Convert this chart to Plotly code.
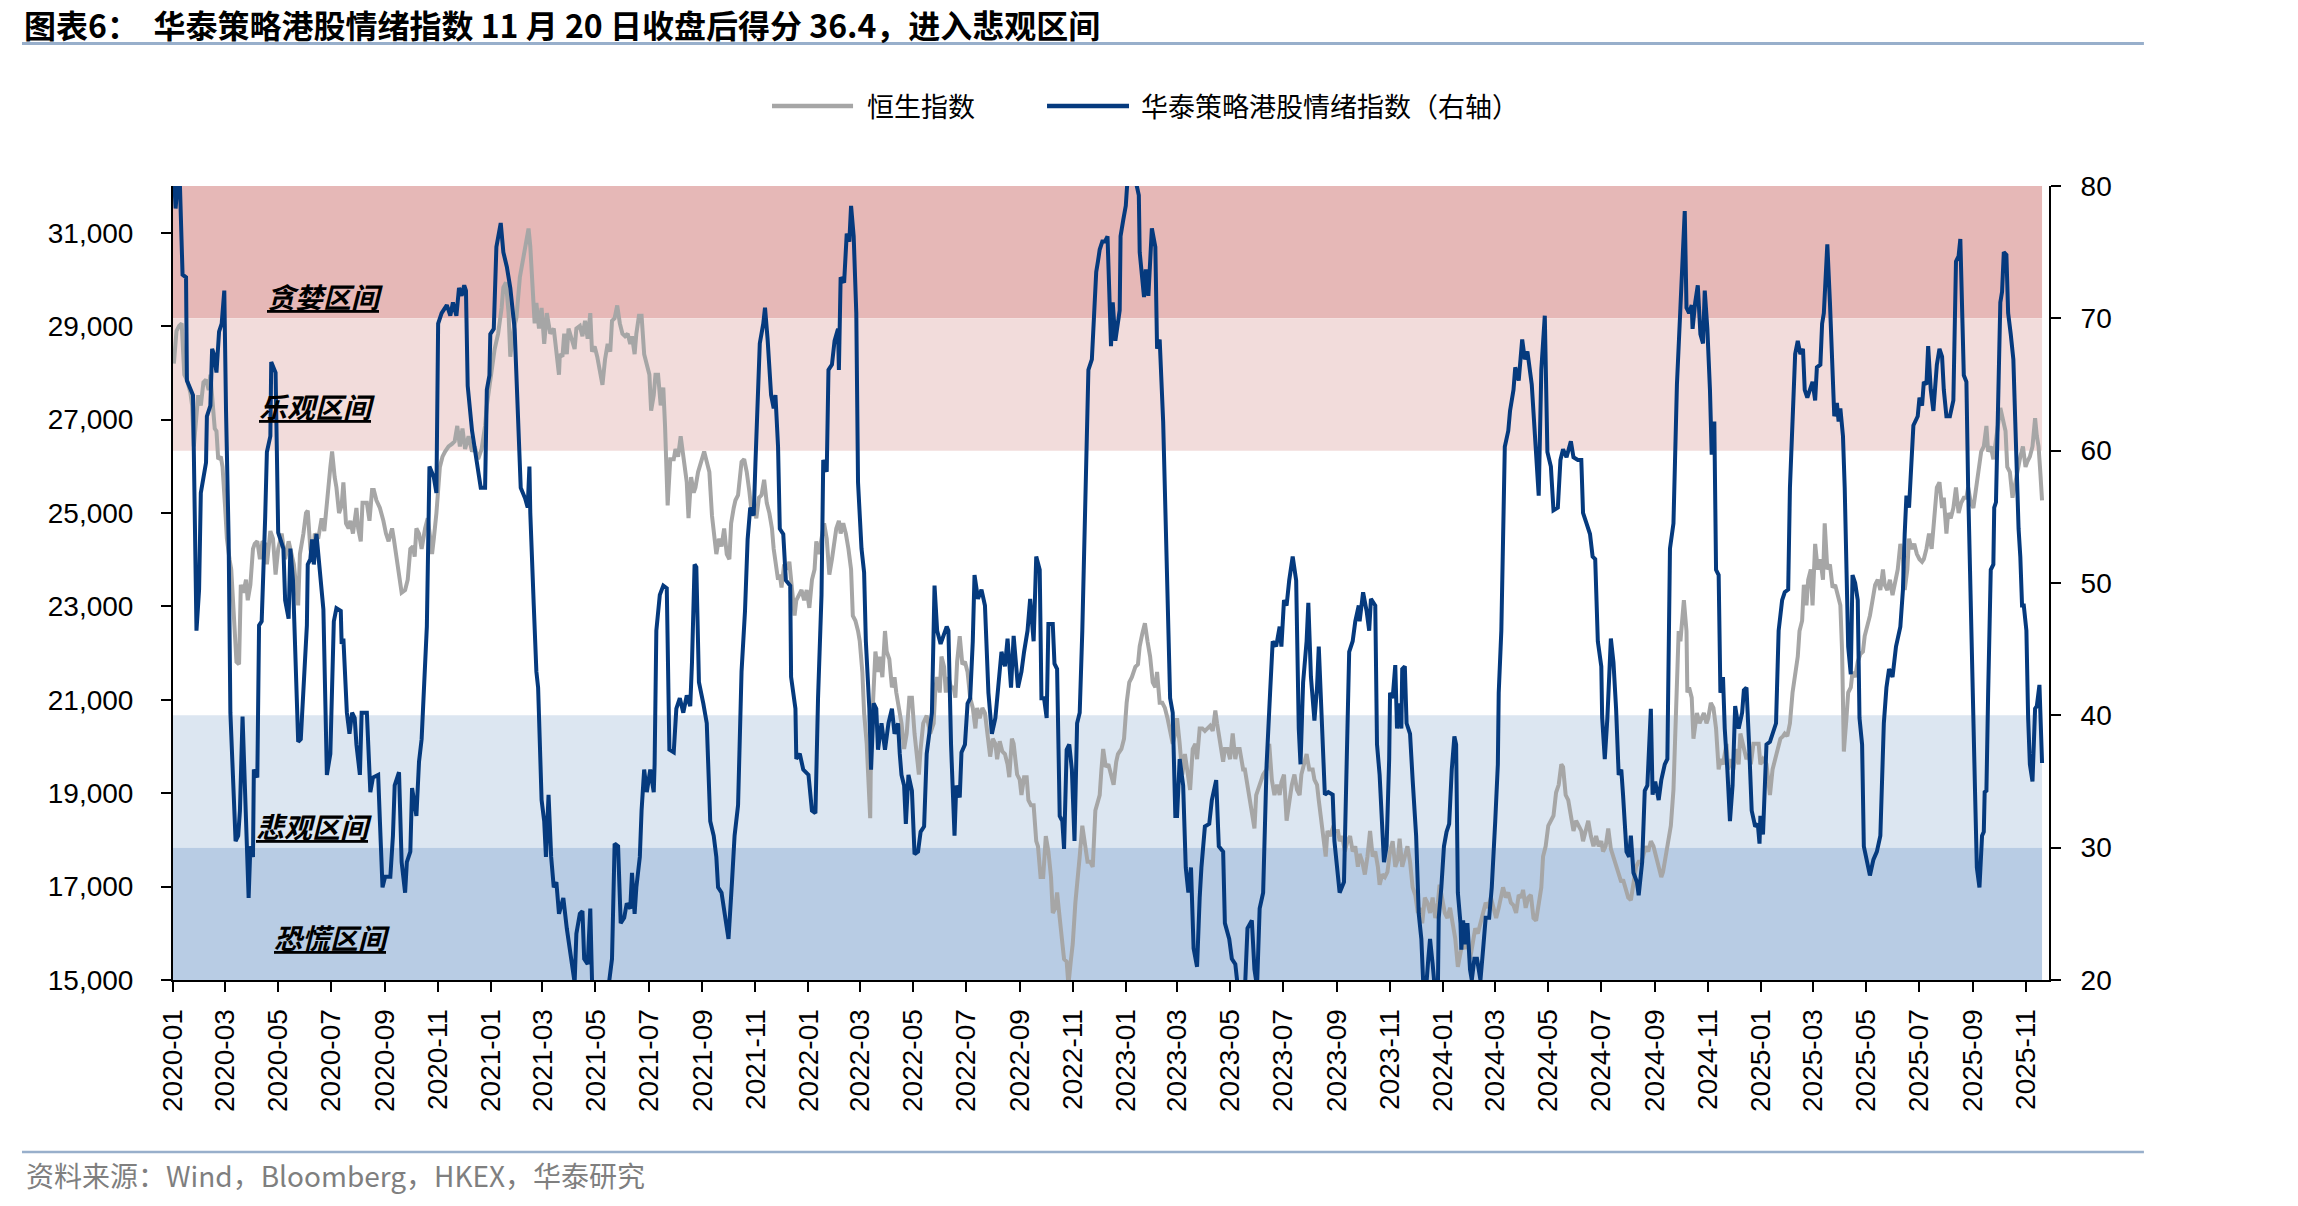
import pandas as pd
import plotly.graph_objects as go

# ---------------- data (days since 2020-01-01) ----------------
BASE = pd.Timestamp("2020-01-01")

hsi_day = [
    1,3,4,7,10,13,16,20,22,24,26,29,32,35,38,41,43,46,48,50,52,55,57,60,62,65,67,69,71,73,
    76,78,81,84,86,89,92,94,97,100,103,106,108,112,115,118,121,125,129,133,135,139,144,146,150,
    153,155,158,161,163,167,171,174,178,181,183,185,186,188,191,194,196,199,202,204,207,211,213,
    216,218,223,226,229,231,234,238,242,245,248,252,254,257,260,263,267,270,273,276,278,280,283,
    286,290,293,296,298,300,303,307,310,313,317,321,324,327,330,333,336,340,344,347,351,355,359,
    361,364,367,370,374,378,380,383,386,388,392,395,399,403,406,409,411,413,416,418,421,424,427,
    430,434,438,441,444,
    445,448,450,453,455,459,462,464,468,471,474,477,480,482,485,488,491,494,497,500,
    503,505,508,511,514,517,520,523,526,528,531,533,536,539,542,545,548,550,553,555,
    558,561,564,566,568,569,572,576,578,581,584,586,588,591,593,596,599,601,604,607,
    611,614,617,620,623,625,628,631,634,637,640,642,645,647,650,654,657,660,663,666,
    669,671,674,677,680,683,686,689,691,693,696,698,700,703,706,709,712,715,717,720,
    723,726,729,732,735,738,740,743,746,749,752,755,758,761,763,766,768,771,774,777,
    780,782,785,788,790,793,795,798,800,802,803,806,808,811,813,816,819,821,824,827,
    830,832,835,838,841,844,847,850,853,855,858,860,863,867,871,875,
    877,879,882,884,887,889,892,895,898,900,902,905,908,911,914,917,920,923,925,928,
    931,934,937,940,943,946,948,951,954,957,960,962,965,967,971,974,976,979,982,984,
    987,990,993,995,998,1001,1004,1007,1010,1012,1015,1017,1020,1022,1025,1028,1030,1033,1035,1038,
    1040,1043,1046,1049,1052,1055,1058,1061,1063,1066,1068,1070,1073,1076,1079,1082,1085,1087,1091,1094,
    1097,1100,1103,1107,1110,1112,1115,1118,1121,1124,1127,1130,1132,1135,1138,1141,1144,1147,1150,1153,
    1155,1158,1161,1164,1167,1170,1173,1176,1178,1181,1184,1187,1190,1193,1196,1199,1201,1204,1208,1210,
    1213,1216,1219,1222,1224,1227,1231,1233,1236,1239,1242,1244,1246,1249,1251,1254,1258,1261,1264,1267,
    1270,1273,1275,1278,1281,1284,1287,1290,1293,1296,1298,1301,1304,1307,
    1311,1313,1316,1318,1321,1323,1326,1328,1331,1334,1337,1340,1342,1345,1348,1351,1354,1357,1360,1363,
    1365,1368,1371,1374,1377,1380,1383,1386,1388,1391,1394,1397,1400,1403,1406,1409,1411,1414,1417,1420,
    1423,1426,1429,1432,1434,1437,1440,1443,1446,1449,1452,1455,1457,1460,1463,1466,1469,1472,1475,1478,
    1481,1483,1486,1489,1492,1495,1498,1501,1504,1507,1510,1513,1516,1519,1522,1525,1528,1530,1533,1536,
    1539,1542,1545,1548,1551,1553,1556,1559,1562,1565,1568,1571,1574,1576,1579,1582,1585,1588,1591,1594,
    1597,1599,1602,1605,1608,1611,1614,1617,1620,1622,1625,1628,1631,1634,1637,1640,1643,1645,1648,1651,
    1654,1657,1660,1663,1666,1668,1671,1674,1677,1680,1683,1686,1689,1691,1694,1697,1700,1703,1706,1709,
    1712,1714,1717,1720,1723,
    1726,1729,1732,1734,1736,1738,1741,1742,1744,1747,1749,1751,1753,1756,1759,1761,1764,1766,1769,1772,
    1775,1778,1780,1783,1787,1789,1792,1795,1798,1801,1803,1806,1810,1812,1815,1818,1821,1824,1826,1829,
    1833,1835,1837,1840,1843,1846,1849,1852,1854,1857,1860,1863,1866,1869,1871,1874,1876,1879,1881,1884,
    1886,1889,1892,1895,1898,1900,1903,1906,1909,1912,1915,1918,1920,1921,1922,1925,1927,1930,1932,1935,
    1938,1941,1944,1946,1949,1952,1955,1958,1961,1964,1967,1969,1972,1975,1978,1981,1984,1987,1990,1992,
    1995,1997,2000,2003,2006,2009,2012,2014,2017,2020,2023,2026,2029,2032,2035,2037,2040,2042,2045,2048,
    2051,2054,2057,2060,2063,2065,2068,2071,2074,2077,2080,2083,2086,2088,2091,2094,2097,2100,2102,2105,
    2108,2110,2113,2116,2119,2122,2125,2128,2131,2133,2136,2139,2142,2144,2146,2148,2150,
]

hsi_val = [
    28200,28839,28894,29004,29058,27961,27851,27576,27302,26424,26863,27522,27302,27796,27851,
    27631,27961,27302,26808,26753,26150,26205,25985,25107,24448,24009,23790,23131,22253,21814,
    21759,23460,23295,23570,23131,23460,24229,24338,24393,24009,24393,24338,23899,24613,24448,
    23680,24229,24558,24009,24393,24229,23899,23021,24119,24558,24997,25052,24229,23954,24558,
    24448,24887,24613,25546,25985,26314,25875,25766,25546,24997,25162,25656,24777,24668,24832,
    24558,25107,24668,24393,25216,25216,24832,25491,25491,25271,25107,24832,24558,24393,24668,
    24448,24064,23680,23295,23350,23570,24229,24284,24064,24668,24558,24229,24668,24887,24448,
    24119,24448,24997,25985,26205,26314,26424,26479,26534,26863,26424,26808,26369,26643,26314,
    26424,26150,26369,26863,27302,27741,28180,28509,28839,29388,29827,29937,29278,28345,28948,
    29168,30046,30485,30815,31089,30705,29937,29058,29498,28948,29388,28619,29278,28839,28948,
    28509,27961,
    28400,28345,28839,28400,28948,28729,28509,28948,29004,28784,29113,28729,29278,28455,28564,28345,28070,27741,28290,28619,
    28455,29113,29168,29443,29058,28839,28784,28839,28619,28784,28400,28839,29223,29223,28400,28180,27961,27192,27522,27961,
    27961,27302,27686,26863,25766,25162,26150,26150,26369,26205,26643,26314,25985,25656,24887,25766,25436,25546,25875,26095,
    26314,26095,25875,24942,24448,24119,24448,24284,24668,24119,24009,24777,25107,25271,25381,26095,26150,25875,25458,24942,
    25052,24887,25326,25381,25710,25216,24997,24668,24229,23954,23570,23680,23405,23899,23790,23954,23460,22801,23131,23241,
    23350,23131,23350,22966,23570,23790,24393,24119,24448,24777,24448,23680,24009,24448,24668,24832,24558,24777,24558,24229,
    23790,22801,22692,22472,22253,21594,20716,20057,19179,18465,20057,21265,22033,21594,21924,21484,22472,22033,21869,21265,
    21484,21155,20825,20496,19947,20277,21045,21045,20277,19838,19399,19947,20496,20661,20277,20496,
    21265,21484,21155,21924,21704,21155,21484,21265,21265,21045,21814,22363,21759,21814,21594,21045,20825,20387,20825,20606,
    20825,20716,20167,19783,20167,20057,19728,20113,19893,19838,19618,19343,20167,20057,19399,19289,18960,19343,19343,18850,
    18740,18740,17972,17862,17203,17203,18082,17752,17203,16435,16545,16874,16325,15996,15447,15392,14900,15447,15776,16654,
    16984,17643,18302,17862,17533,17533,17423,18630,18740,18960,19508,19947,19563,19618,19399,19179,19673,19838,19947,20167,
    20935,21374,21484,21704,21759,22143,22417,22637,22253,21924,21374,21265,21594,20935,20935,20825,20606,20277,20057,20277,
    20606,20057,19399,19838,19508,19069,19947,20057,19728,20387,20387,20332,20387,20442,20332,20771,20496,20167,19673,19947,
    19947,19728,20277,19728,19947,19947,19508,19508,19179,18740,18520,18245,18960,19124,19289,19399,19508,20057,19289,18960,
    19179,18960,19234,19399,18410,18850,19179,19399,19069,18960,19399,19618,19838,19508,
    19508,19289,19179,18850,18410,17972,17643,18192,18082,18245,18192,18192,17972,18082,17752,17972,18082,17752,17862,17423,
    17698,17533,17258,17643,18192,17643,17752,17423,17039,17258,17203,17313,17752,17972,17423,17588,18027,17423,17643,17862,
    17533,16984,16819,16435,16545,16215,16764,16654,16435,16764,16325,16654,17039,16764,16435,16325,16545,16215,15886,15282,
    15557,15776,15667,15886,15447,15776,16105,15996,16215,16435,16654,16545,16764,16545,16325,16545,16874,16984,16764,16874,
    16654,16600,16435,16819,16764,16929,16545,16764,16819,16325,16270,16654,16984,17643,17862,18302,18410,18520,19014,19179,
    19618,19563,18960,18850,18520,18192,18410,18302,18192,17972,18192,18410,18082,17862,18082,17862,17972,17752,17862,18245,
    17807,17643,17423,17313,17094,17149,16984,16764,16709,17094,17423,17533,17533,17643,17862,17752,17972,17862,17643,17423,
    17203,17313,17643,18082,18302,
    19069,21045,22472,22253,22801,23131,22472,21155,21265,21045,20167,20496,20716,20496,20606,20716,20496,20606,20935,20825,
    20387,19508,19728,19618,20057,19508,19728,19508,19947,19618,20277,20057,19728,19838,19618,20057,20057,20057,19618,19728,
    19618,19179,18960,19508,19728,19947,20167,20222,20277,20222,20496,21155,21484,21924,22472,22692,23460,23021,23570,23790,
    23021,24338,23790,24009,23570,24777,23790,23899,23405,23460,23241,23021,22033,20935,19893,20606,21155,21265,21594,21484,
    21814,21978,22033,22363,22582,22801,23131,23460,23570,23350,23790,23460,23350,23570,23241,23570,23790,24338,24009,23350,
    23790,24448,24229,24338,24119,24009,23954,24009,24229,24558,24229,24887,25546,25656,25107,25326,24558,24997,24887,25107,
    25546,24997,25216,25326,25326,25546,25216,25107,25546,25985,26314,26424,26863,26314,26424,26150,26643,26973,27247,26973,
    26753,25985,25875,25326,25656,25875,26205,26424,25985,26095,26205,26424,27028,26643,26424,25875,25271,
]

sent_day = [
    1,3,6,8,11,15,16,21,23,27,30,32,35,38,39,43,45,47,50,53,56,59,61,64,66,69,72,75,77,80,
    83,85,87,89,92,93,97,99,102,106,108,112,113,118,121,127,129,133,135,138,144,147,150,154,155,
    158,160,162,165,168,173,177,181,185,188,193,194,196,200,203,206,209,211,215,217,223,227,230,
    236,238,241,244,250,253,255,260,263,267,269,273,275,280,283,286,289,292,295,300,303,305,309,
    315,319,322,326,329,332,335,337,339,344,347,351,354,359,361,364,365,369,372,377,380,384,388,
    393,397,400,405,408,410,411,415,418,420,424,427,429,432,435,438,441,444,
    449,453,458,462,464,468,471,473,477,480,482,485,493,501,505,508,512,515,519,522,
    526,528,531,533,537,539,542,545,549,553,554,556,560,564,568,571,576,579,583,587,
    591,595,597,600,602,605,610,614,618,622,625,627,631,635,639,643,646,650,654,658,
    661,664,668,670,673,675,679,681,684,688,691,693,696,698,702,705,710,711,716,717,
    721,725,731,735,739,742,746,748,752,754,758,761,765,766,768,772,775,778,780,783,
    786,788,792,795,797,801,803,806,809,811,815,819,823,827,830,834,836,838,841,843,
    846,850,853,857,860,864,867,873,876,
    879,883,886,890,892,895,899,901,905,907,911,914,917,920,922,926,930,934,938,942,
    946,949,953,957,960,964,967,972,976,979,983,986,990,993,997,999,1002,1005,1007,1012,
    1014,1017,1020,1023,1025,1028,1031,1034,1037,1040,1043,1046,1050,1053,1057,1059,1062,1064,1066,1069,
    1072,1075,1079,1081,1084,1089,1090,1093,1096,1098,1103,1107,1111,1112,1114,1117,1119,1122,1126,1130,
    1132,1135,1139,1141,1144,1147,1150,1153,1155,1158,1162,1165,1168,1171,1174,1178,1181,1183,1187,1192,
    1195,1200,1203,1208,1210,1215,1218,1222,1224,1228,1233,1236,1241,1244,1247,1250,1254,1258,1262,1265,
    1269,1273,1275,1278,1281,1284,1288,1292,1295,1297,1300,1304,1306,
    1309,1313,1316,1318,1321,1325,1329,1334,1336,1340,1342,1347,1350,1353,1357,1360,1364,1365,1369,1373,
    1376,1378,1383,1385,1388,1391,1393,1396,1399,1400,1403,1406,1408,1410,1413,1414,1417,1419,1423,1426,
    1430,1433,1436,1438,1441,1444,1446,1449,1452,1455,1456,1459,1462,1465,1468,1471,1474,1476,1478,1481,
    1482,1484,1487,1489,1492,1494,1497,1500,1504,1507,1510,1514,1517,1521,1524,1525,1528,1530,1532,1536,
    1538,1542,1544,1548,1551,1552,1555,1558,1563,1566,1571,1574,1576,1578,1581,1585,1588,1593,1596,1599,
    1603,1608,1611,1616,1620,1622,1626,1630,1633,1636,1639,1643,1644,1647,1650,1654,1657,1660,1663,1666,
    1668,1672,1675,1677,1680,1684,1686,1690,1693,1696,1700,1702,1705,1709,1712,1716,1719,1722,1726,1730,
    1734,
    1739,1741,1744,1747,1748,1751,1754,1757,1760,1762,1765,1768,1770,1773,1775,1778,1780,1783,1785,1788,
    1791,1794,1797,1801,1805,1807,1810,1813,1816,1820,1823,1825,1826,1829,1833,1837,1840,1844,1847,1851,
    1854,1858,1860,1863,1866,1869,1872,1875,1877,1880,1883,1886,1889,1891,1895,1897,1899,1902,1903,1906,
    1909,1911,1914,1916,1918,1921,1923,1925,1927,1930,1932,1935,1938,1940,1943,1945,1949,1952,1956,1960,
    1964,1966,1968,1971,1974,1978,1982,1987,1990,1992,1994,1997,1999,2002,2007,2009,2012,2014,2017,2019,
    2022,2025,2029,2032,2035,2037,2040,2044,2048,2051,2054,2056,2060,2063,2065,2068,2071,2073,2075,2078,
    2081,2083,2084,2086,2088,2091,2094,2095,2097,2100,2102,2104,2106,2109,2111,2114,2117,2119,2121,2123,
    2125,2127,2129,2132,2134,2136,2139,2142,2144,2147,2150,
]

sent_val = [
    81,78.3,81,80,73.3,73.1,65.3,64.6,64.2,46.4,49.5,56.8,58,59.1,62.6,63.4,67.7,67.3,65.9,69,
    69.6,72.1,63,53.3,40.2,35.5,30.5,30.9,32.8,39.9,34,29.3,26.2,30.1,29.3,35.9,35.3,46.8,47.1,54.9,
    59.9,61.1,66.7,65.9,53.8,52.6,48.7,47.3,52.6,50.2,38,38.2,41.7,46.8,51.4,51.8,53.3,51.4,53.7,51.6,
    48,35.5,37.1,47.1,48.1,47.9,45.4,45.8,40.2,38.6,40.2,39.8,37.8,35.5,40.2,40.2,34.2,35.3,35.5,32,
    27,27.8,27.8,30.9,34.7,35.7,28.9,26.6,28.9,29.7,34.5,32.4,36.5,38.2,42.5,46.7,58.8,58,56.8,69.6,
    70.4,71,70.2,71.2,70.2,72.3,71.7,72.5,72.1,64.9,61.5,60.3,58.8,57.2,57.2,64.6,65.7,68.8,69.2,75.4,
    77.2,75,73.9,72.3,69.2,62.6,57.2,56.4,55.7,58.8,55.3,48.3,43.3,42.1,33.6,32,29.3,34,29.3,27,
    27.4,25,
    26.2,23.9,21.6,19.8,23.5,25,25.2,21.6,21.2,25.4,20,19,18.5,19.5,21.6,30.3,30.1,24.3,24.7,25.8,
    25.4,28.1,25,27,29.3,32.8,35.9,34.2,35.9,34.2,36.3,46.4,49.1,49.8,49.6,37.4,37.2,40.5,41.3,40.2,
    41.5,40.7,44,51.4,51.2,42.5,40.9,39.4,32,30.9,29.3,27,26.6,25,23.1,27.4,30.9,33.2,43.3,47.9,
    53.3,55.7,55.1,59.1,63.8,68.1,69.6,70.8,68.4,64.2,63.2,64.2,60.3,54.1,53.7,50.2,49.8,42.9,40.5,36.7,
    37.1,35.9,35.5,32.8,32.6,41.3,49.1,59.3,58.4,66.1,66.5,68.3,69.2,66.1,73.1,72.7,76.4,75.8,78.5,76.2,
    70.4,57.6,52.6,50.8,45.6,40.5,35.9,40.9,40.5,37.4,39.4,37.4,39.4,40.5,38.6,39.4,37.1,35.5,34.7,31.8,
    35.5,34.3,29.5,29.7,31.2,31.6,37.1,40.2,49.8,
    46.4,45.4,46,46.7,46.4,37.8,30.9,34.7,33.8,37.2,37.8,40.9,41.3,45.6,50.6,48.8,49.5,48.3,41.7,38.6,
    39.8,41.7,44.8,43.7,45.8,42.1,46,42.1,43.3,44.8,46.4,48.8,45.6,52,51,41.3,41.3,39.8,46.9,46.9,
    43.9,43.5,32.4,32,29.9,37.4,37.8,35.9,30.5,39.4,40.2,46.4,56.4,66.1,66.9,69.6,73.5,74.3,75.2,75.8,
    75.8,76.2,67.9,71.2,68.3,70.6,76.2,77.4,78.5,80.5,81,80.5,79.3,75,73.5,71.6,73.7,71.7,76.8,75.4,
    67.7,68.4,62.2,57.2,51,41.3,40.2,32.4,32.4,36.7,34.7,28.5,26.6,28.5,22.4,21,26.2,28.5,31.6,31.8,
    33.6,35.1,30.1,29.7,24.3,23.1,21.6,21.2,20,19,19.2,23.9,24.5,20.8,19.5,25.4,26.6,36.3,41.7,45.6,
    45.2,46.7,45.2,48.7,48.3,50.2,52,50.2,39,36.3,42.5,45.6,48.5,
    42.9,39.6,42.1,45.2,39.8,34,34.2,34,30.5,28.1,26.6,27.4,36.3,44.8,45.6,47.1,48.3,47.1,49.3,47.9,
    46.4,48.8,48.3,37.8,35.5,32,28.9,30.1,36.7,41.7,41.3,43.8,39,40.9,39,43.5,43.7,39.4,38.6,35.1,
    30.9,25,23.1,20,19,21.6,23.1,21.2,19,19.3,24.7,27,30.1,31.2,31.8,35.9,38.4,37.8,26.6,24.3,
    22.3,24.5,22.7,24.3,20.8,20,21.6,21.6,20,22.3,24.7,24.7,27,32,36.3,41.7,46.4,53.3,60.3,61.5,
    63,64.6,66.3,65.3,67.3,68.4,66.9,67.5,65,61.5,56.6,66.1,67.7,70.2,59.9,58.8,55.5,55.7,59.3,60.1,
    59.5,60.7,59.5,59.3,59.3,55.3,54.5,53.7,52,51.8,45.6,43.7,39.8,36.7,39.8,45.8,44,40.5,35.5,35.9,
    34,29.7,29.3,30.9,28.1,27.4,26.4,28.9,34.3,34.7,40.5,34,35,33.6,35.1,36.3,36.7,52.6,54.5,65,
    70.8,
    78.1,70.8,70.4,71,69.2,71.2,72.5,68.8,68.1,72.1,69.2,64.6,59.7,62.2,51,50.6,41.7,42.9,39,35.9,
    32,34.7,40.7,39,40.2,41.9,42.1,37.8,32.8,31.6,31.8,30.3,32.4,31,37.8,38,38.6,39.4,46.4,48.7,
    49.3,49.5,57.2,62.6,67.3,68.3,67.3,67.7,64.6,64,64.6,65.2,63.8,66.3,66.5,69.6,70.4,74.1,75.6,71.2,
    66.1,62.6,63.6,62.2,63.2,61.1,57.2,50.6,45.2,43.1,50.6,50,48.7,39.8,37.8,30.1,28.9,27.9,29.1,29.7,
    30.9,35.5,39.4,42.1,43.5,42.9,45.2,46.7,49.5,53.7,56.6,55.7,58.4,61.9,62.6,64,63.4,65.2,65,67.9,
    64.6,63,66.5,67.7,67.1,64.6,62.6,62.6,63.8,74.3,74.7,76,65.7,65.2,57.2,49.5,41.7,34,28.5,27,
    30.9,31.2,34.2,34.3,41.7,51,51.4,55.7,56.1,65,71.2,72,75,74.8,70.4,68.8,66.9,62.6,57.2,54.1,
    52,48.3,48.3,46.4,39.8,36.3,35,40.5,40.7,42.3,36.4,
]

assert len(hsi_day) == len(hsi_val), (len(hsi_day), len(hsi_val))
assert len(sent_day) == len(sent_val), (len(sent_day), len(sent_val))

zone_names = ["贪婪区间", "乐观区间", "悲观区间", "恐慌区间"]
zone_low = [70, 60, 30, 20]
zone_high = [80, 70, 40, 30]

left_ticks = list(range(15000, 31001, 2000))
right_ticks = list(range(20, 81, 10))

series_names = ["恒生指数", "华泰策略港股情绪指数（右轴）"]
title_text = "图表6：\u00a0\u00a0华泰策略港股情绪指数 11 月 20 日收盘后得分 36.4，进入悲观区间"
source_text = "资料来源：Wind，Bloomberg，HKEX，华泰研究"

# ---------------- styles ----------------
zone_colors = ["#E6B8B7", "#F2DCDB", "#DCE6F1", "#B8CCE4"]
zone_label_pos = [(0.081, 0.862), (0.077, 0.723), (0.075, 0.194), (0.085, 0.054)]
GREY = "#A6A6A6"
NAVY = "#053A7E"
CJK = "Noto Sans CJK SC"
LAT = "Liberation Sans, Arial, sans-serif"

hsi_dates = BASE + pd.to_timedelta(hsi_day, unit="D")
sent_dates = BASE + pd.to_timedelta(sent_day, unit="D")
last_date = max(hsi_dates[-1], sent_dates[-1])

fig = go.Figure()
fig.add_trace(go.Scatter(x=hsi_dates, y=hsi_val, name=series_names[0], mode="lines",
                         line=dict(color=GREY, width=4), yaxis="y", showlegend=False))
fig.add_trace(go.Scatter(x=sent_dates, y=sent_val, name=series_names[1], mode="lines",
                         line=dict(color=NAVY, width=4), yaxis="y2", showlegend=False))

# sentiment zones
for lo, hi, col in zip(zone_low, zone_high, zone_colors):
    fig.add_shape(type="rect", xref="x", yref="y2", x0=BASE, x1=last_date, y0=lo, y1=hi,
                  fillcolor=col, line_width=0, layer="below")

for name, (px_, py_) in zip(zone_names, zone_label_pos):
    fig.add_annotation(xref="paper", yref="paper", x=px_, y=py_, text=name, showarrow=False,
                       xanchor="center", yanchor="middle",
                       font=dict(family=CJK, size=28, color="black", style="italic",
                                 weight="bold", lineposition="under"))

# title + rule
fig.add_annotation(xref="paper", yref="paper", x=-0.0805, y=1.204, text=title_text,
                   showarrow=False, xanchor="left", yanchor="middle",
                   font=dict(family=CJK, size=32, color="black", weight="bold"))
fig.add_shape(type="line", xref="paper", yref="paper", x0=-0.0805, x1=1.0506, y0=1.1795, y1=1.1795,
              line=dict(color="#98AFCB", width=3))

# manual legend
leg_y = 1.1008
fig.add_shape(type="line", xref="paper", yref="paper", x0=0.3193, x1=0.3625, y0=leg_y, y1=leg_y,
              line=dict(color=GREY, width=4.5))
fig.add_annotation(xref="paper", yref="paper", x=0.3689, y=leg_y, text=series_names[0],
                   showarrow=False, xanchor="left", yanchor="middle",
                   font=dict(family=CJK, size=27, color="black"))
fig.add_shape(type="line", xref="paper", yref="paper", x0=0.4659, x1=0.5096, y0=leg_y, y1=leg_y,
              line=dict(color=NAVY, width=4.5))
fig.add_annotation(xref="paper", yref="paper", x=0.5149, y=leg_y, text=series_names[1],
                   showarrow=False, xanchor="left", yanchor="middle",
                   font=dict(family=CJK, size=27, color="black"))

# footer
fig.add_shape(type="line", xref="paper", yref="paper", x0=-0.0805, x1=1.0506, y0=-0.2166, y1=-0.2166,
              line=dict(color="#98AFCB", width=2.5))
fig.add_annotation(xref="paper", yref="paper", x=-0.0794, y=-0.2456, text=source_text,
                   showarrow=False, xanchor="left", yanchor="middle",
                   font=dict(family=CJK, size=28, color="#7F7F7F"))

axis_common = dict(showline=True, linecolor="black", linewidth=2, ticks="outside", ticklen=10,
                   tickwidth=2, tickcolor="black", showgrid=False, zeroline=False,
                   tickfont=dict(family=LAT, size=28, color="black"))

fig.update_layout(
    width=2298, height=1206,
    margin=dict(l=173, r=249, t=186, b=226, pad=0),
    paper_bgcolor="white", plot_bgcolor="white",
    showlegend=False,
    xaxis=dict(type="date", range=[BASE, pd.Timestamp("2025-11-28")], tick0="2020-01-01",
               dtick="M2", tickformat="%Y-%m", tickangle=-90, ticklabelstandoff=6, **axis_common),
    yaxis=dict(range=[15000, 32000], tickvals=left_ticks, tickformat=",d",
               ticklabelstandoff=22, **axis_common),
    yaxis2=dict(range=[20, 80], tickvals=right_ticks, overlaying="y", side="right",
                ticklabelstandoff=14, **axis_common),
)

fig.write_html("out.html")
